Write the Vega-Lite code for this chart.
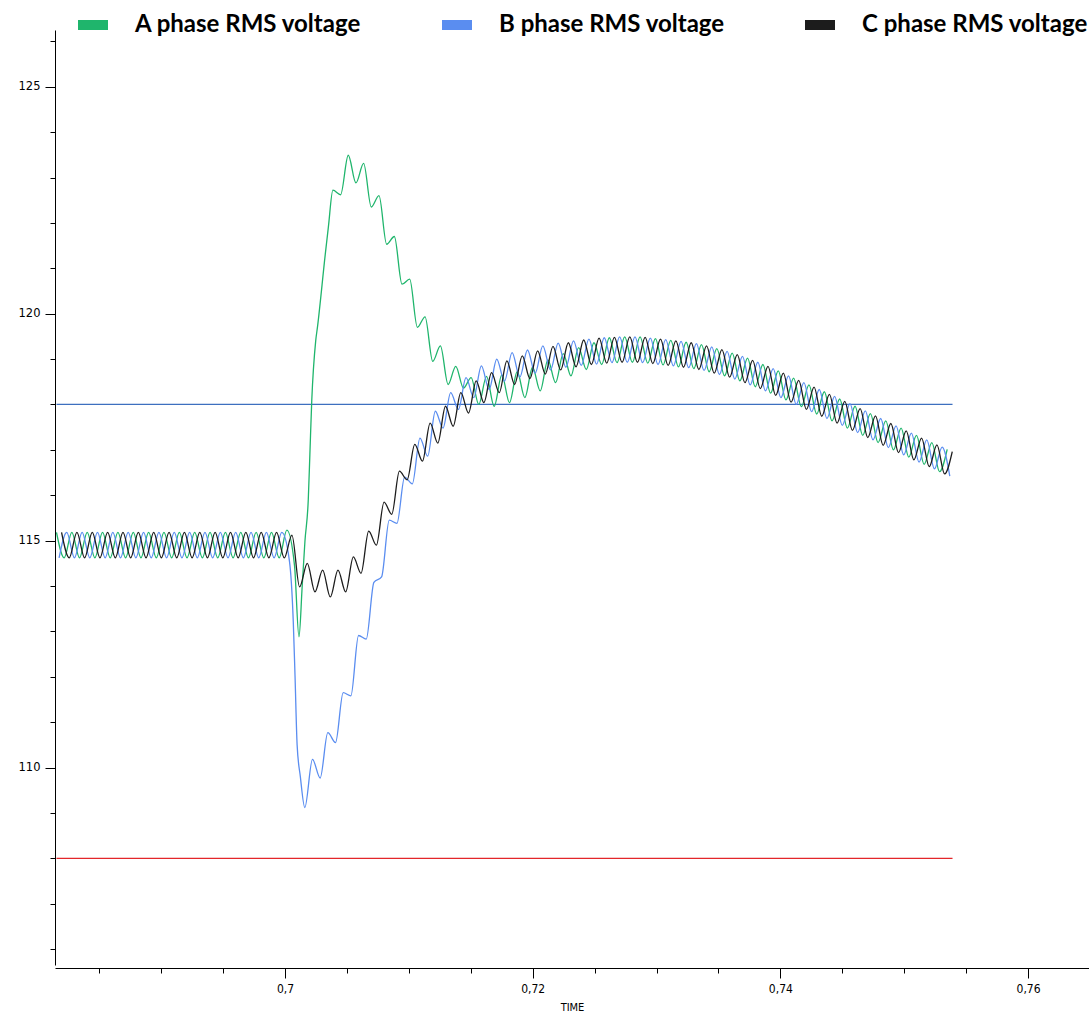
{
"$schema":"https://vega.github.io/schema/vega-lite/v6.json",
"width":1034,"height":935,"autosize":"none",
"padding":{"left":55,"top":30,"right":0,"bottom":58},
"background":"white",
"config":{"view":{"stroke":null},"font":"Liberation Sans"},
"datasets":{
"A":[{"t":0.68155,"v":115.18},{"t":0.68217,"v":114.62},{"t":0.68279,"v":115.18},{"t":0.68341,"v":114.62},{"t":0.68403,"v":115.18},{"t":0.68465,"v":114.62},{"t":0.68527,"v":115.18},{"t":0.68589,"v":114.62},{"t":0.68651,"v":115.18},{"t":0.68713,"v":114.62},{"t":0.68775,"v":115.18},{"t":0.68837,"v":114.62},{"t":0.68899,"v":115.18},{"t":0.68961,"v":114.62},{"t":0.69023,"v":115.18},{"t":0.69085,"v":114.62},{"t":0.69147,"v":115.18},{"t":0.69209,"v":114.62},{"t":0.69271,"v":115.18},{"t":0.69333,"v":114.62},{"t":0.69395,"v":115.18},{"t":0.69457,"v":114.62},{"t":0.69519,"v":115.18},{"t":0.69581,"v":114.62},{"t":0.69643,"v":115.18},{"t":0.69705,"v":114.62},{"t":0.69767,"v":115.18},{"t":0.69829,"v":114.62},{"t":0.69891,"v":115.18},{"t":0.69953,"v":114.62},{"t":0.70015,"v":115.23},{"t":0.70077,"v":114.45},{"t":0.70113,"v":112.88},{"t":0.70139,"v":114.0},{"t":0.70161,"v":114.98},{"t":0.70188,"v":115.9},{"t":0.70201,"v":116.9},{"t":0.70216,"v":118.07},{"t":0.70248,"v":119.4},{"t":0.70263,"v":119.72},{"t":0.70325,"v":121.3},{"t":0.7035,"v":121.9},{"t":0.70387,"v":122.72},{"t":0.70449,"v":122.62},{"t":0.70511,"v":123.49},{"t":0.70573,"v":122.88},{"t":0.70635,"v":123.31},{"t":0.70697,"v":122.35},{"t":0.70759,"v":122.6},{"t":0.70821,"v":121.53},{"t":0.70883,"v":121.7},{"t":0.70945,"v":120.65},{"t":0.71007,"v":120.76},{"t":0.71069,"v":119.7},{"t":0.71131,"v":119.93},{"t":0.71193,"v":118.95},{"t":0.71255,"v":119.29},{"t":0.71317,"v":118.44},{"t":0.71379,"v":118.84},{"t":0.71441,"v":118.36},{"t":0.71503,"v":118.59},{"t":0.71565,"v":118.0},{"t":0.71627,"v":118.62},{"t":0.71689,"v":117.96},{"t":0.71751,"v":118.65},{"t":0.71813,"v":118.04},{"t":0.71875,"v":118.72},{"t":0.71937,"v":118.15},{"t":0.71999,"v":118.82},{"t":0.72061,"v":118.3},{"t":0.72123,"v":118.98},{"t":0.72185,"v":118.48},{"t":0.72247,"v":119.12},{"t":0.72309,"v":118.63},{"t":0.72371,"v":119.25},{"t":0.72433,"v":118.77},{"t":0.72495,"v":119.36},{"t":0.72557,"v":118.88},{"t":0.72619,"v":119.47},{"t":0.72681,"v":118.92},{"t":0.72743,"v":119.49},{"t":0.72805,"v":118.93},{"t":0.72867,"v":119.49},{"t":0.72929,"v":118.91},{"t":0.72991,"v":119.45},{"t":0.73053,"v":118.87},{"t":0.73115,"v":119.41},{"t":0.73177,"v":118.83},{"t":0.73239,"v":119.37},{"t":0.73301,"v":118.79},{"t":0.73363,"v":119.32},{"t":0.73425,"v":118.72},{"t":0.73487,"v":119.23},{"t":0.73549,"v":118.63},{"t":0.73611,"v":119.13},{"t":0.73673,"v":118.52},{"t":0.73735,"v":119.02},{"t":0.73797,"v":118.39},{"t":0.73859,"v":118.88},{"t":0.73921,"v":118.25},{"t":0.73983,"v":118.74},{"t":0.74045,"v":118.1},{"t":0.74107,"v":118.58},{"t":0.74169,"v":117.95},{"t":0.74231,"v":118.43},{"t":0.74293,"v":117.79},{"t":0.74355,"v":118.28},{"t":0.74417,"v":117.64},{"t":0.74479,"v":118.12},{"t":0.74541,"v":117.48},{"t":0.74603,"v":117.96},{"t":0.74665,"v":117.32},{"t":0.74727,"v":117.8},{"t":0.74789,"v":117.16},{"t":0.74851,"v":117.64},{"t":0.74913,"v":117.0},{"t":0.74975,"v":117.48},{"t":0.75037,"v":116.84},{"t":0.75099,"v":117.32},{"t":0.75161,"v":116.68},{"t":0.75223,"v":117.16},{"t":0.75285,"v":116.52},{"t":0.75347,"v":117.01}],
"B":[{"t":0.68176,"v":114.62},{"t":0.68238,"v":115.18},{"t":0.683,"v":114.62},{"t":0.68362,"v":115.18},{"t":0.68424,"v":114.62},{"t":0.68486,"v":115.18},{"t":0.68548,"v":114.62},{"t":0.6861,"v":115.18},{"t":0.68672,"v":114.62},{"t":0.68734,"v":115.18},{"t":0.68796,"v":114.62},{"t":0.68858,"v":115.18},{"t":0.6892,"v":114.62},{"t":0.68982,"v":115.18},{"t":0.69044,"v":114.62},{"t":0.69106,"v":115.18},{"t":0.69168,"v":114.62},{"t":0.6923,"v":115.18},{"t":0.69292,"v":114.62},{"t":0.69354,"v":115.18},{"t":0.69416,"v":114.62},{"t":0.69478,"v":115.18},{"t":0.6954,"v":114.62},{"t":0.69602,"v":115.18},{"t":0.69664,"v":114.62},{"t":0.69726,"v":115.18},{"t":0.69788,"v":114.62},{"t":0.6985,"v":115.18},{"t":0.69912,"v":114.62},{"t":0.69974,"v":115.18},{"t":0.70036,"v":114.55},{"t":0.70067,"v":113.21},{"t":0.70081,"v":112.03},{"t":0.70098,"v":110.5},{"t":0.70124,"v":109.8},{"t":0.7016,"v":109.12},{"t":0.70222,"v":110.18},{"t":0.70284,"v":109.77},{"t":0.70346,"v":110.77},{"t":0.70408,"v":110.55},{"t":0.7047,"v":111.65},{"t":0.70532,"v":111.58},{"t":0.70594,"v":112.91},{"t":0.70656,"v":112.83},{"t":0.70718,"v":114.08},{"t":0.7078,"v":114.2},{"t":0.70842,"v":115.45},{"t":0.70904,"v":115.38},{"t":0.70966,"v":116.4},{"t":0.71028,"v":116.25},{"t":0.7109,"v":117.26},{"t":0.71152,"v":116.86},{"t":0.71214,"v":117.85},{"t":0.71276,"v":117.48},{"t":0.71338,"v":118.26},{"t":0.714,"v":117.89},{"t":0.71462,"v":118.59},{"t":0.71524,"v":118.15},{"t":0.71586,"v":118.85},{"t":0.71648,"v":118.33},{"t":0.7171,"v":119.0},{"t":0.71772,"v":118.51},{"t":0.71834,"v":119.14},{"t":0.71896,"v":118.6},{"t":0.71958,"v":119.2},{"t":0.7202,"v":118.69},{"t":0.72082,"v":119.29},{"t":0.72144,"v":118.76},{"t":0.72206,"v":119.35},{"t":0.72268,"v":118.82},{"t":0.7233,"v":119.4},{"t":0.72392,"v":118.86},{"t":0.72454,"v":119.44},{"t":0.72516,"v":118.89},{"t":0.72578,"v":119.47},{"t":0.7264,"v":118.92},{"t":0.72702,"v":119.49},{"t":0.72764,"v":118.93},{"t":0.72826,"v":119.49},{"t":0.72888,"v":118.92},{"t":0.7295,"v":119.46},{"t":0.73012,"v":118.88},{"t":0.73074,"v":119.43},{"t":0.73136,"v":118.85},{"t":0.73198,"v":119.39},{"t":0.7326,"v":118.81},{"t":0.73322,"v":119.34},{"t":0.73384,"v":118.75},{"t":0.73446,"v":119.27},{"t":0.73508,"v":118.66},{"t":0.7357,"v":119.17},{"t":0.73632,"v":118.56},{"t":0.73694,"v":119.06},{"t":0.73756,"v":118.43},{"t":0.73818,"v":118.93},{"t":0.7388,"v":118.3},{"t":0.73942,"v":118.79},{"t":0.74004,"v":118.15},{"t":0.74066,"v":118.63},{"t":0.74128,"v":118.0},{"t":0.7419,"v":118.48},{"t":0.74252,"v":117.84},{"t":0.74314,"v":118.33},{"t":0.74376,"v":117.69},{"t":0.74438,"v":118.18},{"t":0.745,"v":117.54},{"t":0.74562,"v":118.02},{"t":0.74624,"v":117.38},{"t":0.74686,"v":117.86},{"t":0.74748,"v":117.22},{"t":0.7481,"v":117.69},{"t":0.74872,"v":117.05},{"t":0.74934,"v":117.53},{"t":0.74996,"v":116.89},{"t":0.75058,"v":117.37},{"t":0.7512,"v":116.73},{"t":0.75182,"v":117.22},{"t":0.75244,"v":116.58},{"t":0.75306,"v":117.06},{"t":0.75368,"v":116.42}],
"C":[{"t":0.68196,"v":115.18},{"t":0.68258,"v":114.62},{"t":0.6832,"v":115.18},{"t":0.68382,"v":114.62},{"t":0.68444,"v":115.18},{"t":0.68506,"v":114.62},{"t":0.68568,"v":115.18},{"t":0.6863,"v":114.62},{"t":0.68692,"v":115.18},{"t":0.68754,"v":114.62},{"t":0.68816,"v":115.18},{"t":0.68878,"v":114.62},{"t":0.6894,"v":115.18},{"t":0.69002,"v":114.62},{"t":0.69064,"v":115.18},{"t":0.69126,"v":114.62},{"t":0.69188,"v":115.18},{"t":0.6925,"v":114.62},{"t":0.69312,"v":115.18},{"t":0.69374,"v":114.62},{"t":0.69436,"v":115.18},{"t":0.69498,"v":114.62},{"t":0.6956,"v":115.18},{"t":0.69622,"v":114.62},{"t":0.69684,"v":115.18},{"t":0.69746,"v":114.62},{"t":0.69808,"v":115.18},{"t":0.6987,"v":114.62},{"t":0.69932,"v":115.18},{"t":0.69994,"v":114.62},{"t":0.70056,"v":115.12},{"t":0.70118,"v":113.98},{"t":0.7018,"v":114.5},{"t":0.70242,"v":113.87},{"t":0.70304,"v":114.35},{"t":0.70366,"v":113.76},{"t":0.70428,"v":114.35},{"t":0.7049,"v":113.87},{"t":0.70552,"v":114.64},{"t":0.70614,"v":114.28},{"t":0.70676,"v":115.21},{"t":0.70738,"v":114.9},{"t":0.708,"v":115.85},{"t":0.70862,"v":115.58},{"t":0.70924,"v":116.53},{"t":0.70986,"v":116.34},{"t":0.71048,"v":117.12},{"t":0.7111,"v":116.75},{"t":0.71172,"v":117.59},{"t":0.71234,"v":117.15},{"t":0.71296,"v":117.96},{"t":0.71358,"v":117.52},{"t":0.7142,"v":118.26},{"t":0.71482,"v":117.81},{"t":0.71544,"v":118.52},{"t":0.71606,"v":118.04},{"t":0.71668,"v":118.7},{"t":0.7173,"v":118.26},{"t":0.71792,"v":118.96},{"t":0.71854,"v":118.44},{"t":0.71916,"v":119.07},{"t":0.71978,"v":118.57},{"t":0.7204,"v":119.18},{"t":0.72102,"v":118.67},{"t":0.72164,"v":119.28},{"t":0.72226,"v":118.76},{"t":0.72288,"v":119.36},{"t":0.7235,"v":118.83},{"t":0.72412,"v":119.42},{"t":0.72474,"v":118.88},{"t":0.72536,"v":119.46},{"t":0.72598,"v":118.91},{"t":0.7266,"v":119.48},{"t":0.72722,"v":118.93},{"t":0.72784,"v":119.49},{"t":0.72846,"v":118.93},{"t":0.72908,"v":119.48},{"t":0.7297,"v":118.9},{"t":0.73032,"v":119.44},{"t":0.73094,"v":118.86},{"t":0.73156,"v":119.4},{"t":0.73218,"v":118.82},{"t":0.7328,"v":119.36},{"t":0.73342,"v":118.77},{"t":0.73404,"v":119.29},{"t":0.73466,"v":118.69},{"t":0.73528,"v":119.21},{"t":0.7359,"v":118.6},{"t":0.73652,"v":119.1},{"t":0.73714,"v":118.48},{"t":0.73776,"v":118.97},{"t":0.73838,"v":118.35},{"t":0.739,"v":118.84},{"t":0.73962,"v":118.2},{"t":0.74024,"v":118.69},{"t":0.74086,"v":118.05},{"t":0.74148,"v":118.53},{"t":0.7421,"v":117.89},{"t":0.74272,"v":118.38},{"t":0.74334,"v":117.74},{"t":0.74396,"v":118.22},{"t":0.74458,"v":117.59},{"t":0.7452,"v":118.07},{"t":0.74582,"v":117.43},{"t":0.74644,"v":117.91},{"t":0.74706,"v":117.27},{"t":0.74768,"v":117.75},{"t":0.7483,"v":117.1},{"t":0.74892,"v":117.58},{"t":0.74954,"v":116.94},{"t":0.75016,"v":117.42},{"t":0.75078,"v":116.78},{"t":0.7514,"v":117.26},{"t":0.75202,"v":116.63},{"t":0.75264,"v":117.11},{"t":0.75326,"v":116.47},{"t":0.75388,"v":116.96}],
"upper":[{"t":0.68155,"t2":0.7539,"v":118}],
"lower":[{"t":0.68155,"t2":0.7539,"v":108}]
},
"encoding":{
"x":{"field":"t","type":"quantitative","title":"TIME",
 "scale":{"domain":[0.68143,0.76492],"nice":false,"zero":false},
 "axis":{"values":[0.685,0.69,0.695,0.7,0.705,0.71,0.715,0.72,0.725,0.73,0.735,0.74,0.745,0.75,0.755,0.76,0.765],
  "labelExpr":"round(datum.value*1000) % 20 === 0 ? replace(format(datum.value, '.2~f'), '.', ',') : ''",
  "tickSize":{"condition":{"test":"round(datum.value*1000) % 20 === 0","value":10},"value":5},
  "offset":3,"grid":false,"domainColor":"#000","tickColor":"#000","labelColor":"#000","titleColor":"#000",
  "labelFont":"Liberation Sans Narrow, DejaVu Sans Condensed, Liberation Sans","labelFontSize":12,"labelPadding":5,"labelOverlap":false,"labelBound":false,
  "titleFont":"Liberation Sans Narrow, DejaVu Sans Condensed, Liberation Sans","titleFontSize":11,"titleFontWeight":"normal","titlePadding":7}},
"y":{"field":"v","type":"quantitative",
 "scale":{"domain":[105.65,126.25],"nice":false,"zero":false},
 "axis":{"title":null,"values":[106,107,108,109,110,111,112,113,114,115,116,117,118,119,120,121,122,123,124,125,126],
  "labelExpr":"datum.value % 5 === 0 ? datum.label : ''",
  "tickSize":{"condition":{"test":"datum.value % 5 === 0","value":10},"value":5},
  "grid":false,"domainColor":"#000","tickColor":"#000","labelColor":"#000",
  "labelFont":"DejaVu Sans","labelFontSize":11.5,"labelPadding":5,"labelOverlap":false}}
},
"layer":[
{"data":{"name":"upper"},"mark":{"type":"rule","color":"#3d6fbf","strokeWidth":1.2},"encoding":{"x2":{"field":"t2"}}},
{"data":{"name":"lower"},"mark":{"type":"rule","color":"#e3262a","strokeWidth":1.2},"encoding":{"x2":{"field":"t2"}}},
{"data":{"name":"A"},"mark":{"type":"line","interpolate":"monotone","strokeWidth":1.3},
 "encoding":{"color":{"datum":"A phase RMS voltage","type":"nominal",
  "scale":{"domain":["A phase RMS voltage","B phase RMS voltage","C phase RMS voltage"],"range":["#1fb56c","#5a8df0","#1c1c1c"]},
  "legend":{"orient":"none","legendX":18,"legendY":-25,"direction":"horizontal","title":null,
   "symbolType":"stroke","symbolSize":900,"symbolStrokeWidth":10,"symbolOpacity":1,
   "labelFont":"Lato","labelFontSize":24,"labelFontWeight":"bold","labelColor":"#000","labelOffset":22,"columnPadding":60,"labelLimit":500,
   "encode":{"symbols":{"update":{"strokeWidth":{"value":10}}}}}}}},
{"data":{"name":"B"},"mark":{"type":"line","interpolate":"monotone","strokeWidth":1.3},
 "encoding":{"color":{"datum":"B phase RMS voltage","type":"nominal"}}},
{"data":{"name":"C"},"mark":{"type":"line","interpolate":"monotone","strokeWidth":1.3},
 "encoding":{"color":{"datum":"C phase RMS voltage","type":"nominal"}}}
]
}
